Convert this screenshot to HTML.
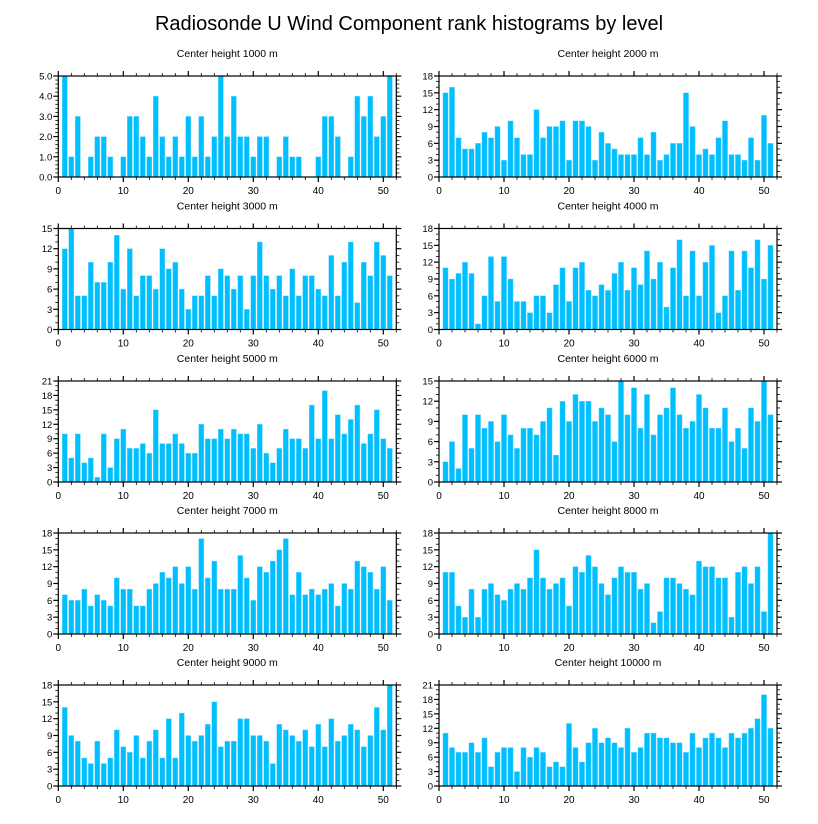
<!DOCTYPE html>
<html><head><meta charset="utf-8">
<style>
html,body{margin:0;padding:0;background:#fff;}
svg{display:block;font-family:"Liberation Sans",sans-serif;}
</style></head>
<body>
<svg id="chart" width="818" height="824" viewBox="0 0 818 824" xmlns="http://www.w3.org/2000/svg">
<rect width="818" height="824" fill="#fff"/>
<text x="409" y="30" text-anchor="middle" font-size="20" fill="#000">Radiosonde U Wind Component rank histograms by level</text>
</svg>
<script>
const levels = ["1000","2000","3000","4000","5000","6000","7000","8000","9000","10000"];
const h1000  = [5,1,3,0,1,2,2,1,0,1,3,3,2,1,4,2,1,2,1,3,1,3,1,2,5,2,4,2,2,1,2,2,0,1,2,1,1,0,0,1,3,3,2,0,1,4,3,4,2,3,5];
const h2000  = [15,16,7,5,5,6,8,7,9,3,10,7,4,4,12,7,9,9,10,3,10,10,9,3,8,6,5,4,4,4,7,4,8,3,4,6,6,15,9,4,5,4,7,10,4,4,3,7,3,11,6];
const h3000  = [12,15,5,5,10,7,7,10,14,6,12,5,8,8,6,12,9,10,6,3,5,5,8,5,9,8,6,8,3,8,13,8,6,8,5,9,5,8,8,6,5,11,5,10,13,4,10,8,13,11,8];
const h4000  = [11,9,10,12,10,1,6,13,5,13,9,5,5,3,6,6,3,8,11,5,11,12,7,6,8,7,10,12,7,11,8,14,9,12,4,11,16,6,14,6,12,15,3,6,14,7,14,11,16,9,15];
const h5000  = [10,5,10,4,5,1,10,3,9,11,7,7,8,6,15,8,8,10,8,6,6,12,9,9,11,9,11,10,10,7,12,6,4,7,11,9,9,7,16,9,19,9,14,10,13,16,8,10,15,9,7];
const h6000  = [3,6,2,10,5,10,8,9,6,10,7,5,8,8,7,9,11,4,12,9,13,12,12,9,11,10,6,15,10,14,8,13,7,10,11,14,10,8,9,13,11,8,8,11,6,8,5,11,9,15,10];
const h7000  = [7,6,6,8,5,7,6,5,10,8,8,5,5,8,9,11,10,12,9,12,8,17,10,13,8,8,8,14,10,6,12,11,13,15,17,7,11,7,8,7,8,9,5,9,8,13,12,11,8,12,6];
const h8000  = [11,11,5,3,8,3,8,9,7,6,8,9,8,10,15,10,8,9,10,5,12,11,14,12,9,7,10,12,11,11,8,9,2,4,10,10,9,8,7,13,12,12,10,10,3,11,12,9,12,4,18];
const h9000  = [14,9,8,5,4,8,4,5,10,7,6,9,5,8,10,5,12,5,13,9,8,9,11,15,7,8,8,12,12,9,9,8,4,11,10,9,8,10,7,11,7,12,8,9,11,10,7,9,14,10,18];
const h10000 = [11,8,7,7,9,7,10,4,7,8,8,3,8,6,8,7,4,5,4,13,8,5,9,12,9,10,9,8,12,7,8,11,11,10,10,9,9,7,11,8,10,11,10,8,11,10,11,12,14,19,12];
const yMaxes = [5,18,15,18,21,15,18,18,18,21];
const yMajors = [1,3,3,3,3,3,3,3,3,3];
const yMinors = [0.2,1,1,1,1,1,1,1,1,1];
const xTickLabels = [0,10,20,30,40,50];

const series = [h1000,h2000,h3000,h4000,h5000,h6000,h7000,h8000,h9000,h10000];
const NS = "http://www.w3.org/2000/svg";
const svg = document.getElementById('chart');
const PW = 338, PH = 101, XMAX = 52;
const lefts = [58.3, 439];
const tops = [76, 228.5, 381, 533, 685];

function mk(tag, attrs, parent){
  const e = document.createElementNS(NS, tag);
  for (const k in attrs) e.setAttribute(k, attrs[k]);
  (parent||svg).appendChild(e);
  return e;
}

series.forEach((vals, i) => {
  const x0 = lefts[i % 2], y0 = tops[Math.floor(i / 2)];
  const ymax = yMaxes[i];
  const sx = v => x0 + v / XMAX * PW;
  const sy = v => y0 + PH - v / ymax * PH;
  const g = mk('g', {});
  
  

  const t = mk('text', {x: x0 + PW/2, y: y0 - 19, 'text-anchor':'middle', 'font-size':'10.5', fill:'#000'}, g);
  t.textContent = 'Center height ' + levels[i] + ' m';
  
  

  vals.forEach((v, k) => {
    const r = 1 + k;
    const bw = 0.8;
    const b = mk('rect', {x: sx(r - bw/2), y: sy(v), width: bw/XMAX*PW, height: Math.max(0, sy(0) - sy(v)), fill:'#00BFFF', stroke:'#7fdcff', 'stroke-width':'0.4'}, g);
    
    
  });

  for (let v = 0; v <= XMAX; v += 2) {
    const major = v % 10 === 0;
    const L = major ? 5 : 3;
    mk('line', {x1: sx(v), x2: sx(v), y1: y0 + PH, y2: y0 + PH + L, stroke:'#000', 'stroke-width': major?1.2:0.8}, g);
    mk('line', {x1: sx(v), x2: sx(v), y1: y0, y2: y0 - L, stroke:'#000', 'stroke-width': major?1.2:0.8}, g);
  }
  xTickLabels.forEach(v => {
    const tl = mk('text', {x: sx(v), y: y0 + PH + 17, 'text-anchor':'middle', 'font-size':'10', fill:'#000'}, g);
    tl.textContent = v;
    
    
  });
  const mn = yMinors[i], mj = yMajors[i];
  const nMin = Math.round(ymax / mn);
  for (let k = 0; k <= nMin; k++) {
    const v = k * mn;
    const major = Math.abs(v / mj - Math.round(v / mj)) < 1e-6;
    const L = major ? 5 : 3;
    mk('line', {x1: x0, x2: x0 - L, y1: sy(v), y2: sy(v), stroke:'#000', 'stroke-width': major?1.2:0.8}, g);
    mk('line', {x1: x0 + PW, x2: x0 + PW + L, y1: sy(v), y2: sy(v), stroke:'#000', 'stroke-width': major?1.2:0.8}, g);
  }
  for (let v = 0; v <= ymax + 1e-9; v += mj) {
    const yl = mk('text', {x: x0 - 6, y: sy(v) + 3.5, 'text-anchor':'end', 'font-size':'9.5', fill:'#000'}, g);
    yl.textContent = mj < 3 ? v.toFixed(1) : v;
    
    
  }
  const fr = mk('rect', {x: x0, y: y0, width: PW, height: PH, fill:'none', stroke:'#000', 'stroke-width':'1.2'}, g);
  
  
});
</script>
</body></html>
